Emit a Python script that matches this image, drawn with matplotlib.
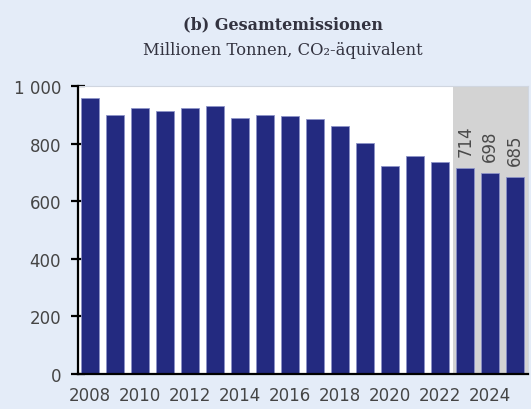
import numpy as np
import matplotlib.pyplot as plt

years = list(range(2008, 2026))
emissions = [957, 901, 922, 912, 922, 931, 890, 901, 897, 885, 862, 802,
             721, 756, 737, 714, 698, 685]
forecast_start = 2023
xtick_labels = [str(y) for y in range(2008, 2026, 2)]

bg = '#e4ecf8'
bar_color = '#232a80'

fig = plt.figure(figsize=(5.31, 4.10), dpi=100, facecolor=bg)
ax = fig.add_axes([77.7 / 531, 35 / 410, 450 / 531, 288 / 410])
ax.set_facecolor('white')

x = np.arange(len(years))
ax.bar(x, emissions, width=0.72, color=bar_color, edgecolor='#8d93c8',
       linewidth=0.6, zorder=3)

# shaded forecast years
i0 = years.index(forecast_start)
ax.axvspan(i0 - 0.5, len(years) - 0.5, color='#d3d3d3', zorder=1, lw=0)

for i in range(i0, len(years)):
    ax.text(x[i], emissions[i] + 42, str(emissions[i]), rotation=90,
            ha='center', va='bottom', fontsize=12, color='#4a4a4a', zorder=4)

ax.set_xlim(-0.5, len(years) - 0.5)
ax.set_ylim(0, 1000)
ax.set_yticks(range(0, 1001, 200))
ax.set_yticklabels(['0', '200', '400', '600', '800', '1 000'])
ax.set_xticks(x[::2])
ax.set_xticklabels(xtick_labels)

for s in ['top', 'right']:
    ax.spines[s].set_color('#d0d6e0')
    ax.spines[s].set_linewidth(0.8)
ax.spines['left'].set_linewidth(1.6)
ax.spines['bottom'].set_linewidth(1.6)
ax.spines['left'].set_zorder(5)
ax.spines['bottom'].set_zorder(5)

ax.tick_params(axis='y', direction='inout', length=10, width=1.6,
               labelsize=12, labelcolor='#454545', pad=7)
ax.tick_params(axis='x', length=0, labelsize=12, labelcolor='#454545', pad=9)

fig.text(0.533, 0.94, '(b) Gesamtemissionen', ha='center', va='center',
         fontsize=11.5, fontweight='bold', family='DejaVu Serif', color='#333340')
fig.text(0.533, 0.878, 'Millionen Tonnen, CO\u2082-äquivalent', ha='center',
         va='center', fontsize=11.8, family='DejaVu Serif', color='#333340')

fig.savefig('out.png', dpi=100, facecolor=bg)
